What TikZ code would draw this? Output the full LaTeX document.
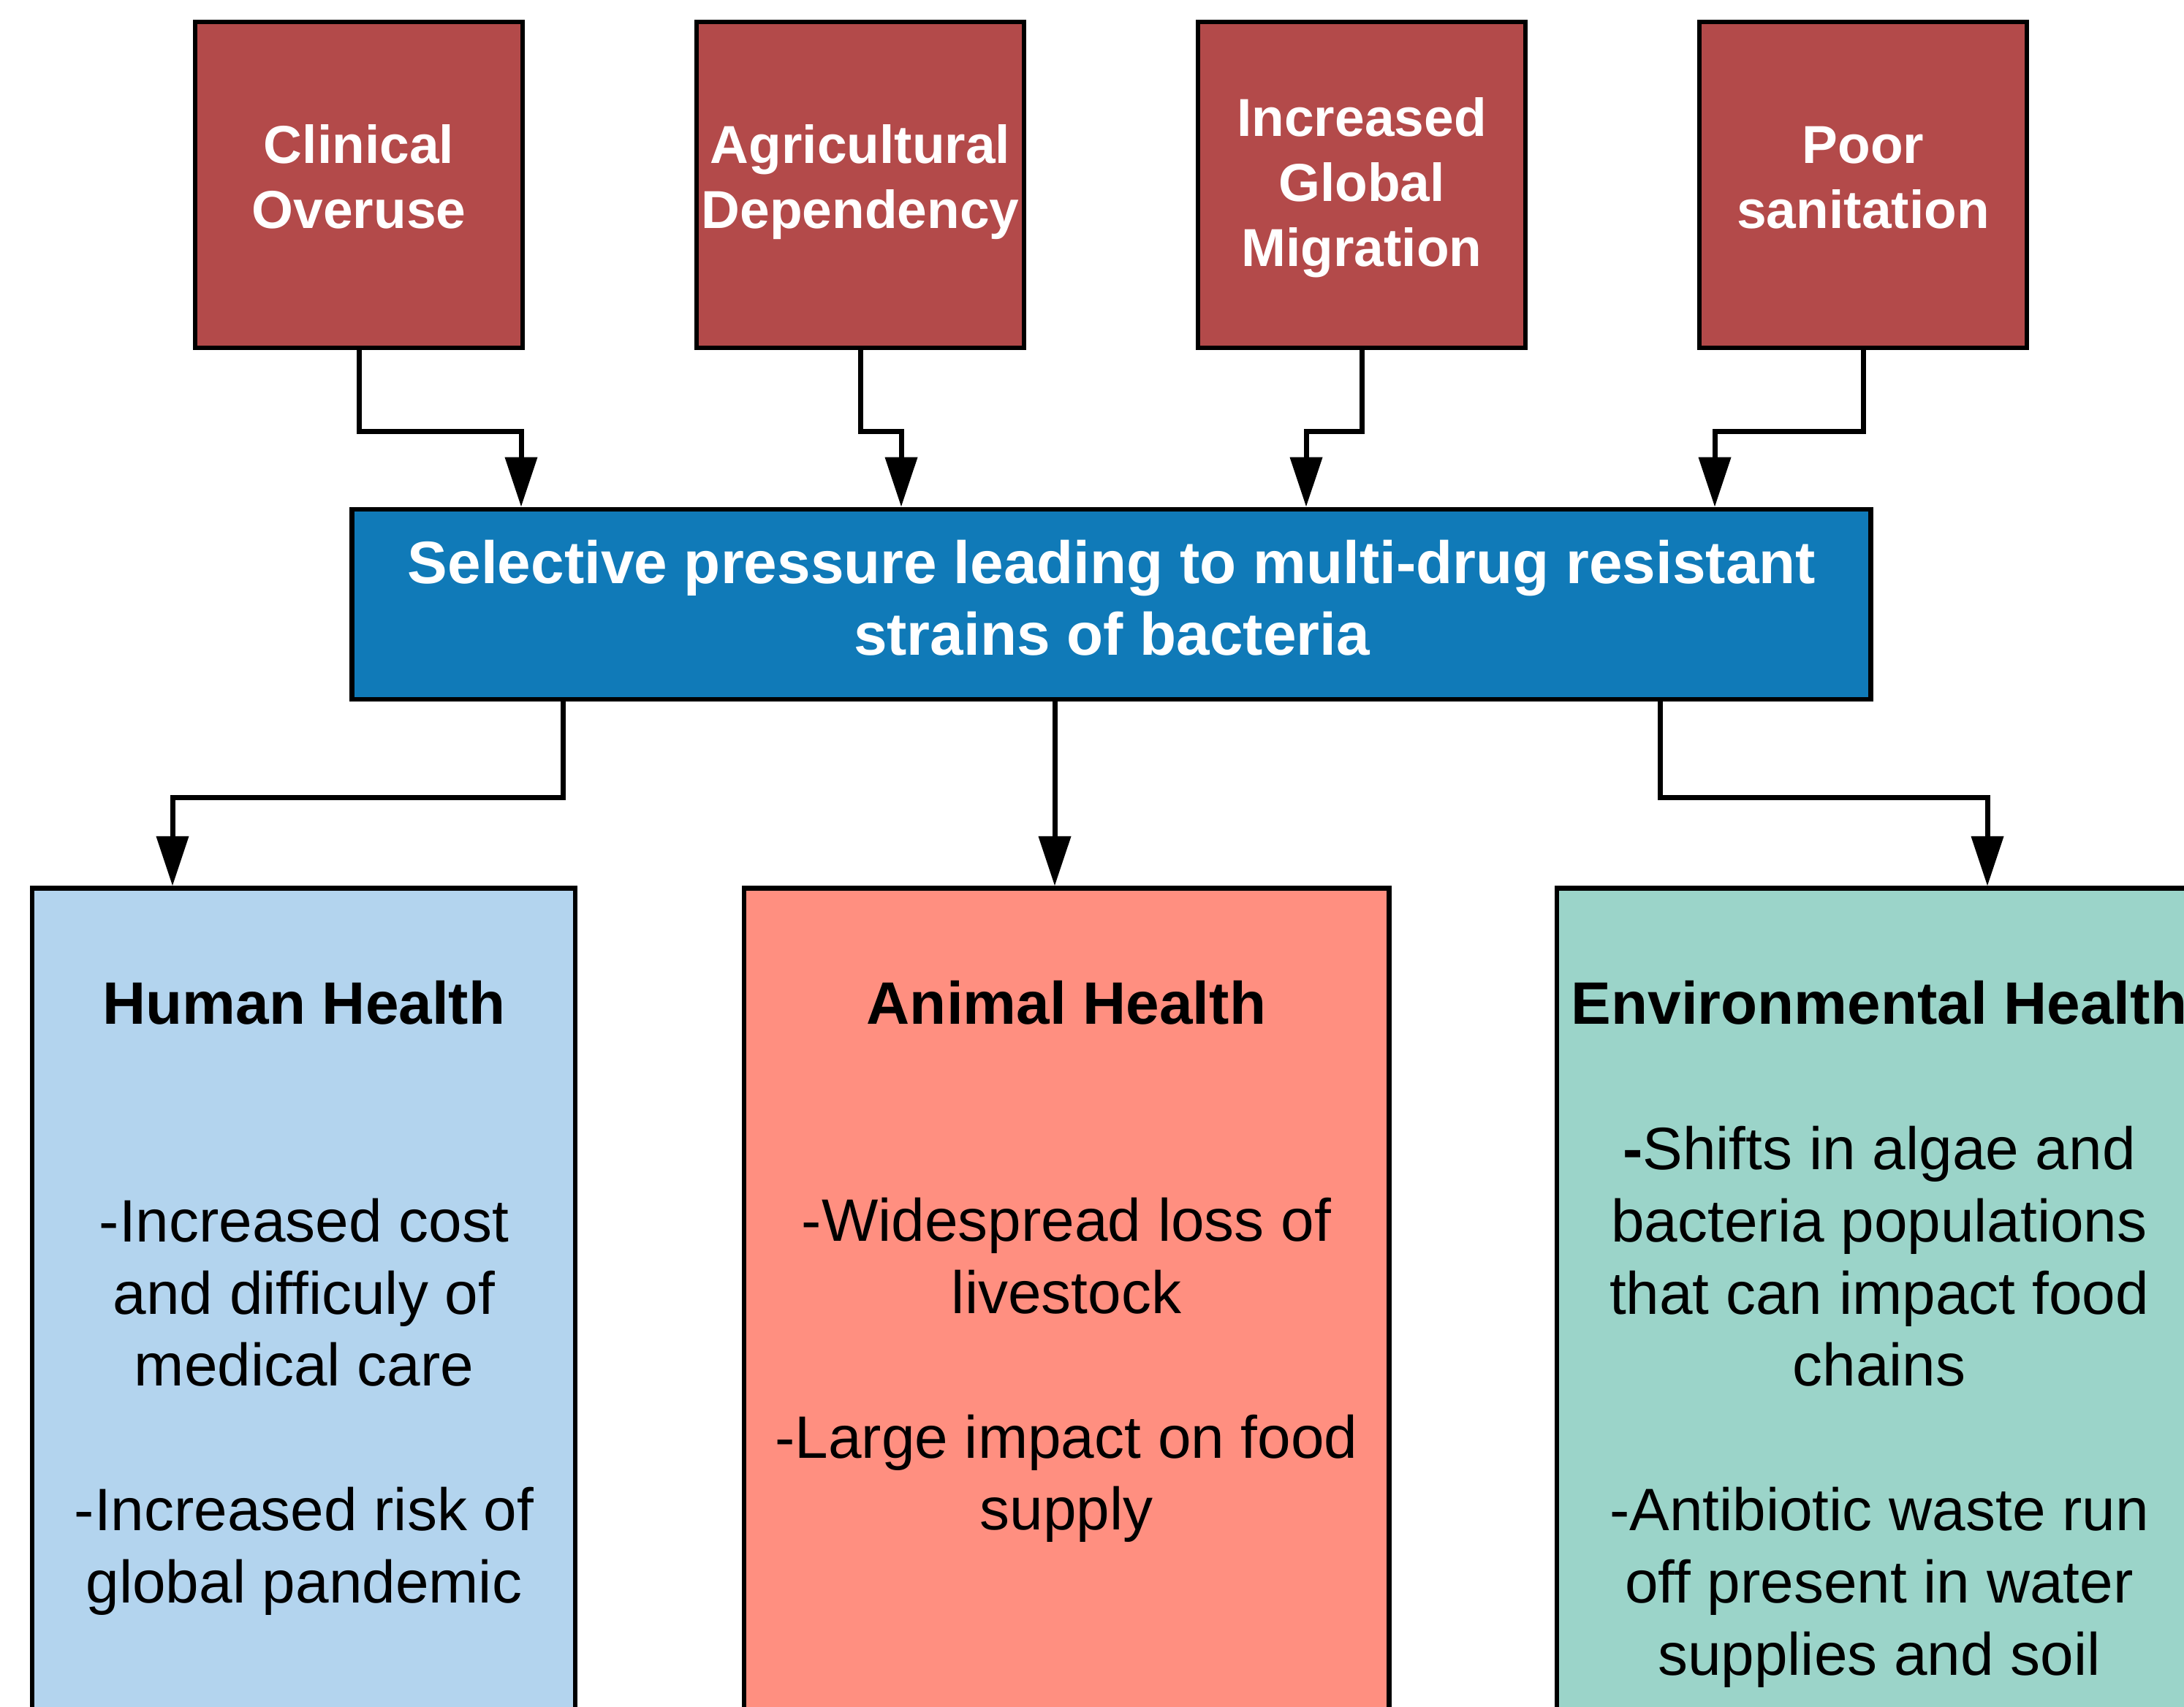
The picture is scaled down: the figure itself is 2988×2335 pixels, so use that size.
\documentclass[tikz,border=0pt]{standalone}
\usepackage{fontspec}
\setmainfont{Liberation Sans}
\usetikzlibrary{arrows.meta}
\definecolor{causered}{RGB}{179,74,74}
\definecolor{midblue}{RGB}{16,122,184}
\definecolor{humanblue}{RGB}{179,212,238}
\definecolor{animalred}{RGB}{255,143,128}
\definecolor{envgreen}{RGB}{155,212,201}
\begin{document}
\begin{tikzpicture}[x=0.01cm,y=-0.01cm,
  box/.style={draw=black, line width=0.065cm, inner sep=0pt},
  causebox/.style={box, fill=causered, minimum width=4.48cm, minimum height=4.455cm},
  causetxt/.style={text=white, align=center, inner sep=0pt,
    font=\fontsize{20.8}{25.3}\selectfont\bfseries},
  midbox/.style={box, fill=midblue, minimum width=20.77cm, minimum height=2.6cm},
  outbox/.style={box, minimum height=11.84cm},
  head/.style={align=center, inner sep=0pt, font=\fontsize{23.3}{27.7}\selectfont\bfseries},
  body/.style={align=center, inner sep=0pt, font=\fontsize{23.3}{28.1}\selectfont},
  conn/.style={line width=0.07cm, -{Triangle[length=0.68cm,width=0.43cm]}}
]
\useasboundingbox (0,0) rectangle (2988,2335);
\fill[white] (0,0) rectangle (2988,2335);
\clip (0,0) rectangle (2988,2335);

% top cause boxes
\node[causebox] (c1) at (491,253) {};
\node[causebox] (c2) at (1177,253) {};
\node[causebox] (c3) at (1863,253) {};
\node[causebox] (c4) at (2549,253) {};
\node[causetxt] (c1t) at (491,250) {\strut Clinical\\Overuse\strut};
\node[causetxt] (c2t) at (1177,250) {\strut Agricultural\\Dependency\strut};
\node[causetxt] (c3t) at (1863,258) {\strut Increased\\Global\\Migration\strut};
\node[causetxt] (c4t) at (2549,250) {\strut Poor\\sanitation\strut};

% middle box
\node[midbox] (mid) at (1520.5,827) {};
\node[head, text=white] (midtxt) at (1521,818) {Selective pressure leading to multi-drug resistant\\strains of bacteria};

% bottom boxes
\node[outbox, fill=humanblue, minimum width=7.43cm] (hum) at (415.5,1808) {};
\node[outbox, fill=animalred, minimum width=8.82cm] (ani) at (1459,1808) {};
\node[outbox, fill=envgreen, minimum width=8.83cm] (env) at (2571.5,1808) {};

\node[head] (humh) at (416,1372) {Human Health};
\node[head] (anih) at (1459,1372) {Animal Health};
\node[head] (envh) at (2571,1372) {Environmental Health};

\node[body] (humb) at (416,1925) {-Increased cost\\and difficuly of\\medical care\\[28.1pt]-Increased risk of\\global pandemic};
\node[body] (anib) at (1459,1875) {-Widespread loss of\\livestock\\[28.1pt]-Large impact on food\\supply};
\node[body] (envb) at (2571,1925) {{\bfseries -}Shifts in algae and\\bacteria populations\\that can impact food\\chains\\[28.1pt]-Antibiotic waste run\\off present in water\\supplies and soil};

% connector x positions
\coordinate (a1) at (713,0);
\coordinate (a2) at (1233,0);
\coordinate (a3) at (1787,0);
\coordinate (a4) at (2346,0);
\coordinate (b1) at (770,0);
\coordinate (b2) at (1443,0);
\coordinate (b3) at (2271,0);
\coordinate (t1) at (236,0);
\coordinate (t3) at (2719,0);

\draw[conn] (c1.south) -- ++(0,111) -| (mid.north -| a1);
\draw[conn] (c2.south) -- ++(0,111) -| (mid.north -| a2);
\draw[conn] (c3.south) -- ++(0,111) -| (mid.north -| a3);
\draw[conn] (c4.south) -- ++(0,111) -| (mid.north -| a4);

\draw[conn] (mid.south -| b1) -- ++(0,131) -| (hum.north -| t1);
\draw[conn] (mid.south -| b2) -- (ani.north -| b2);
\draw[conn] (mid.south -| b3) -- ++(0,131) -| (env.north -| t3);
\end{tikzpicture}
\end{document}
